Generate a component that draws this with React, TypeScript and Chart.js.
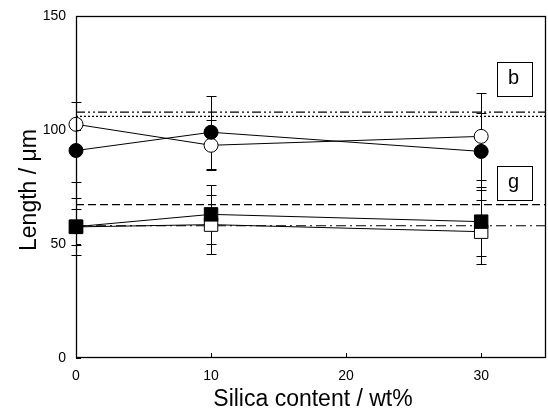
import React, { useEffect, useRef } from 'react';
import { Chart, registerables } from 'chart.js';
Chart.register(...registerables);

const xValues = [0, 10, 30];
const xTicks = [0, 10, 20, 30];
const yTicks = [0, 50, 100, 150];

const openCircle = [102.5, 93.3, 97.2];
const openCircleErr = [10, 11, 19];
const filledCircle = [91, 99, 90.6];
const filledCircleErr = [14, 16, 17];
const filledSquare = [57.6, 63, 59.8];
const filledSquareErr = [12.5, 13, 15];
const openSquare = [57.5, 58.5, 55.4];
const openSquareErr = [8, 13, 14];

const refDashDotDot = 107.8;
const refDotted = 106;
const refDashed = 67.3;
const refDashDot = 58;

const labels = [
  { text: 'b', x: 32.4, y: 122.5 },
  { text: 'g', x: 32.4, y: 76.8 },
];

const FONT = "'Liberation Sans', Arial, sans-serif";

export default function App() {
  const ref = useRef<HTMLCanvasElement>(null);
  useEffect(() => {
    const canvas = ref.current!;
    const series = [
      { v: openCircle, e: openCircleErr },
      { v: filledCircle, e: filledCircleErr },
      { v: filledSquare, e: filledSquareErr },
      { v: openSquare, e: openSquareErr },
    ];
    const plugin = {
      id: 'custom',
      beforeDatasetsDraw(chart: any) {
        const { ctx, scales } = chart;
        const xs = scales.x, ys = scales.y;
        ctx.save();
        ctx.strokeStyle = '#000';
        ctx.lineWidth = 1;
        series.forEach((s) => {
          s.v.forEach((v, i) => {
            const px = Math.round(xs.getPixelForValue(xValues[i])) + 0.5;
            const top = Math.round(ys.getPixelForValue(v + s.e[i])) + 0.5;
            const bot = Math.round(ys.getPixelForValue(v - s.e[i])) + 0.5;
            ctx.beginPath();
            ctx.moveTo(px, top); ctx.lineTo(px, bot);
            ctx.moveTo(px - 5, top); ctx.lineTo(px + 5, top);
            ctx.moveTo(px - 5, bot); ctx.lineTo(px + 5, bot);
            ctx.stroke();
          });
        });
        ctx.restore();
      },
      afterDraw(chart: any) {
        const { ctx, scales, chartArea } = chart;
        const xs = scales.x, ys = scales.y;
        ctx.save();
        ctx.strokeStyle = '#000';
        ctx.lineWidth = 1.3;
        ctx.strokeRect(Math.round(chartArea.left) + 0.5, Math.round(chartArea.top) + 0.5, Math.round(chartArea.right - chartArea.left) - 1, Math.round(chartArea.bottom - chartArea.top) - 1);
        ctx.lineWidth = 1;
        ctx.beginPath();
        xTicks.forEach((t) => {
          const px = Math.round(xs.getPixelForValue(t)) + 0.5;
          ctx.moveTo(px, chartArea.bottom); ctx.lineTo(px, chartArea.bottom - 5);
        });
        yTicks.forEach((t) => {
          const py = Math.round(ys.getPixelForValue(t)) + 0.5;
          ctx.moveTo(chartArea.left, py); ctx.lineTo(chartArea.left + 5, py);
        });
        ctx.stroke();
        ctx.font = `20px ${FONT}`;
        ctx.textAlign = 'center';
        ctx.textBaseline = 'middle';
        labels.forEach((l) => {
          const cx = xs.getPixelForValue(l.x);
          const cy = ys.getPixelForValue(l.y);
          ctx.fillStyle = '#fff';
          ctx.fillRect(Math.round(cx - 17), Math.round(cy - 17), 35, 34);
          ctx.strokeRect(Math.round(cx - 17) + 0.5, Math.round(cy - 17) + 0.5, 35, 34);
          ctx.fillStyle = '#000';
          ctx.fillText(l.text, cx, cy);
        });
        ctx.fillStyle = '#000';
        ctx.font = `23px ${FONT}`;
        ctx.fillText('Silica content / wt%', 313, 400);
        ctx.translate(30, 190);
        ctx.rotate(-Math.PI / 2);
        ctx.fillText('Length / \u03bcm', 0, 0);
        ctx.restore();
      },
    };

    const refLine = (y: number, dash: number[]) => ({
      data: [{ x: 0, y }, { x: 34.8, y }],
      borderColor: '#000',
      borderWidth: 1.2,
      borderDash: dash,
      pointRadius: 0,
      clip: false,
      order: 5,
    });
    const pts = (vals: number[]) => vals.map((v, i) => ({ x: xValues[i], y: v }));

    const chart = new Chart(canvas, {
      type: 'line',
      data: {
        datasets: [
          refLine(refDashDotDot, [9, 3, 2, 3, 2, 3]),
          refLine(refDotted, [2, 2]),
          refLine(refDashed, [8, 4]),
          refLine(refDashDot, [10, 4, 2, 4]),
          { data: pts(openCircle), borderColor: '#000', borderWidth: 1, backgroundColor: '#fff', pointStyle: 'circle', pointRadius: 7, pointBorderWidth: 1, clip: false, order: 3 },
          { data: pts(openSquare), borderColor: '#000', borderWidth: 1, backgroundColor: '#fff', pointStyle: 'rect', pointRadius: 9.5, pointBorderWidth: 1, clip: false, order: 3 },
          { data: pts(filledCircle), borderColor: '#000', borderWidth: 1, backgroundColor: '#000', pointStyle: 'circle', pointRadius: 7, pointBorderWidth: 1, clip: false, order: 1 },
          { data: pts(filledSquare), borderColor: '#000', borderWidth: 1, backgroundColor: '#000', pointStyle: 'rect', pointRadius: 9.5, pointBorderWidth: 1, clip: false, order: 1 },
        ] as any,
      },
      options: {
        responsive: false,
        animation: false,
        devicePixelRatio: 1,
        layout: { autoPadding: false, padding: { left: 0, top: 16, right: 2, bottom: 0 } },
        plugins: { legend: { display: false }, tooltip: { enabled: false } },
        elements: { line: { tension: 0, fill: false } },
        scales: {
          x: {
            type: 'linear',
            min: 0,
            max: 34.8,
            afterBuildTicks: (s: any) => { s.ticks = xTicks.map((v) => ({ value: v })); },
            afterFit: (s: any) => { s.height = 55; s.paddingLeft = 0; s.paddingRight = 0; },
            grid: { display: false, drawTicks: false },
            border: { display: false },
            ticks: { color: '#000', font: { family: FONT, size: 14 }, padding: 10 },
          },
          y: {
            type: 'linear',
            min: 0,
            max: 150,
            afterBuildTicks: (s: any) => { s.ticks = yTicks.map((v) => ({ value: v })); },
            afterFit: (s: any) => { s.width = 76; s.paddingTop = 0; s.paddingBottom = 0; },
            grid: { display: false, drawTicks: false },
            border: { display: false },
            ticks: { color: '#000', font: { family: FONT, size: 14 }, padding: 10 },
          },
        },
      },
      plugins: [plugin],
    });
    return () => chart.destroy();
  }, []);
  return (
    <div style={{ position: 'fixed', left: 0, top: 0, width: 548, height: 413, background: '#fff' }}>
      <canvas ref={ref} width={548} height={413} />
    </div>
  );
}
